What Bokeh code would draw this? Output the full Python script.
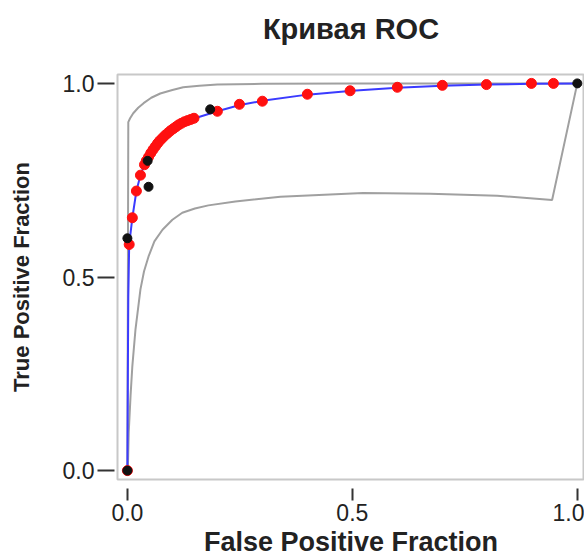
from bokeh.plotting import figure
from bokeh.models import Range1d, FixedTicker, LinearAxis
from bokeh.embed import file_html
from bokeh.resources import INLINE

# ---- data ----
roc_x = [0, 0.001, 0.002, 0.004, 0.011, 0.02, 0.029, 0.038, 0.05, 0.07, 0.09,
         0.118, 0.15, 0.2, 0.25, 0.3, 0.4, 0.5, 0.6, 0.7, 0.8, 0.9, 1.0]
roc_y = [0, 0.25, 0.45, 0.584, 0.653, 0.722, 0.763, 0.79, 0.825, 0.852, 0.874,
         0.897, 0.91, 0.928, 0.944, 0.955, 0.971, 0.981, 0.989, 0.994, 0.997, 0.999, 1.0]

upper_x = [0, 0.002, 0.006, 0.013, 0.024, 0.036, 0.053, 0.073, 0.1, 0.124, 0.16,
           0.2, 0.3, 0.5, 0.7, 1.0]
upper_y = [0, 0.9, 0.91, 0.923, 0.937, 0.949, 0.963, 0.974, 0.983, 0.99, 0.994,
           0.997, 0.999, 1.0, 1.0, 1.0]

lower_x = [0.001, 0.003, 0.007, 0.011, 0.018, 0.029, 0.037, 0.047, 0.06, 0.078,
           0.1, 0.122, 0.15, 0.18, 0.24, 0.34, 0.524, 0.673, 0.822, 0.944, 1.0]
lower_y = [0, 0.1, 0.193, 0.27, 0.365, 0.468, 0.515, 0.553, 0.592, 0.622,
           0.648, 0.666, 0.677, 0.685, 0.695, 0.707, 0.717, 0.715, 0.71, 0.699, 1.0]

red_x = [0, 0.004, 0.011, 0.02, 0.029, 0.038,
         0.042, 0.047, 0.052, 0.057, 0.062, 0.067, 0.072, 0.078, 0.084, 0.090,
         0.096, 0.102, 0.108, 0.114, 0.120, 0.127, 0.134, 0.141, 0.148,
         0.2, 0.249, 0.3, 0.4, 0.495, 0.6, 0.7, 0.798, 0.898, 0.947]
red_y = [0, 0.584, 0.653, 0.722, 0.763, 0.79,
         0.800, 0.810, 0.820, 0.829, 0.837, 0.845, 0.852, 0.859, 0.866, 0.872,
         0.878, 0.883, 0.888, 0.893, 0.897, 0.901, 0.904, 0.907, 0.910,
         0.928, 0.946, 0.954, 0.972, 0.981, 0.99, 0.995, 0.997, 1.0, 1.0]

black_x = [0, 0, 0.045, 0.047, 0.184, 1.0]
black_y = [0, 0.6, 0.8, 0.733, 0.933, 1.0]

ticks = [0, 0.5, 1.0]
tick_labels = {0: "0.0", 0.5: "0.5", 1: "1.0"}

title_text = "Кривая ROC"
x_label = "False Positive Fraction"
y_label = "True Positive Fraction"

# ---- figure ----
p = figure(width=584, height=559, output_backend="svg", toolbar_location=None,
           x_range=Range1d(-0.022, 1.016), y_range=Range1d(-0.023, 1.023),
           min_border_left=117, min_border_right=0, min_border_top=74,
           min_border_bottom=78)

p.outline_line_color = "#c8c8c8"
p.outline_line_width = 2
p.grid.visible = False
p.background_fill_color = "white"
p.border_fill_color = "white"

bx = p.below[0]
ly = p.left[0]

# title drawn as the label of an empty top axis
top = LinearAxis(ticker=FixedTicker(ticks=[]), axis_label=title_text,
                 axis_line_color=None, major_tick_line_color=None,
                 minor_tick_line_color=None, major_label_text_font_size="0px",
                 major_tick_in=0, major_tick_out=0, major_label_standoff=0,
                 axis_label_standoff=30,
                 axis_label_text_font="Liberation Sans",
                 axis_label_text_font_size="29px",
                 axis_label_text_font_style="bold",
                 axis_label_text_color="#222222")
p.add_layout(top, "above")

for ax in (bx, ly):
    ax.ticker = FixedTicker(ticks=ticks)
    ax.major_label_overrides = tick_labels
    ax.axis_line_color = None
    ax.minor_tick_line_color = None
    ax.major_tick_line_color = "#333333"
    ax.major_tick_line_width = 2
    ax.major_label_text_font = "Liberation Sans"
    ax.major_label_text_font_size = "23px"
    ax.major_label_text_color = "#222222"
    ax.axis_label_text_font = "Liberation Sans"
    ax.axis_label_text_font_style = "bold"
    ax.axis_label_text_color = "#222222"

bx.axis_label = x_label
bx.axis_label_text_font_size = "27px"
bx.axis_label_text_line_height = 0.7
bx.major_tick_in = -9
bx.major_tick_out = 21
bx.major_label_standoff = 3
bx.axis_label_standoff = 3

ly.axis_label = y_label
ly.axis_label_text_font_size = "22px"
ly.major_tick_in = -3
ly.major_tick_out = 20
ly.major_label_standoff = 3
ly.axis_label_standoff = 26

band_color = "#a0a0a0"
p.line(upper_x, upper_y, line_color=band_color, line_width=2)
p.line(lower_x, lower_y, line_color=band_color, line_width=2)
p.line(roc_x, roc_y, line_color="#3b3bff", line_width=2)
p.scatter(red_x, red_y, size=10, fill_color="#ff1010", line_color="#ff1010")
p.scatter(black_x, black_y, size=9, fill_color="#111111", line_color="#111111")

open("out.html", "w").write(file_html(p, INLINE))
